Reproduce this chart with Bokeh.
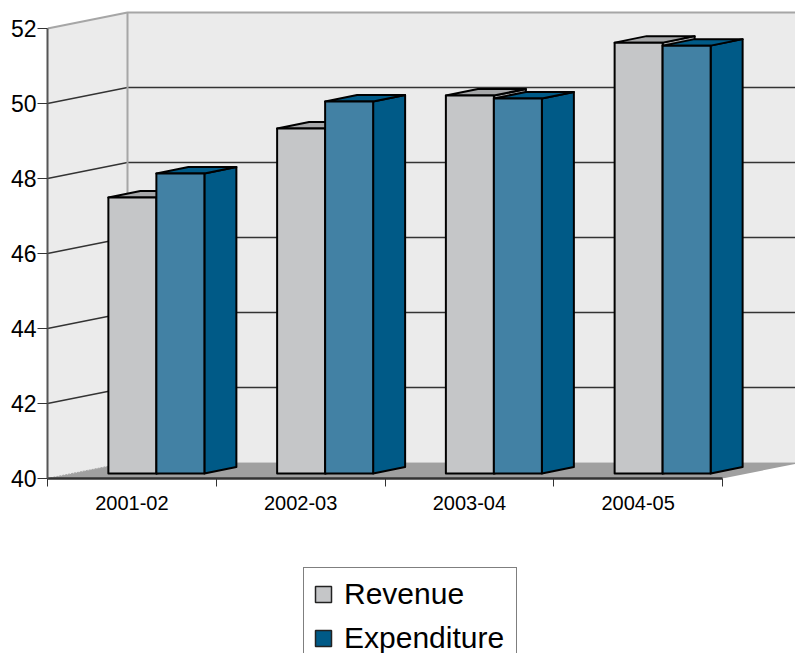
from bokeh.plotting import figure
from bokeh.layouts import column
from bokeh.models import FixedTicker, Legend, LegendItem
from bokeh.embed import file_html
from bokeh.resources import INLINE

years = ["2001-02", "2002-03", "2003-04", "2004-05"]
revenue = [47.36, 49.2, 50.08, 51.49]
expenditure = [48.0, 49.92, 50.0, 51.41]
y_ticks = [40, 42, 44, 46, 48, 50, 52]

PX_X = 168.75   # pixels per category
PX_Y = 37.5     # pixels per y unit
WALL_DX, WALL_DY = 80 / PX_X, 16 / PX_Y
BAR_DX, BAR_DY = 32 / PX_X, 6.5 / PX_Y
FRONT_DX, FRONT_DY = 24.5 / PX_X, 5 / PX_Y
BAR_W = 48 / PX_X
FONT = "Liberation Sans"

p = figure(width=795, height=530, output_backend="svg", toolbar_location=None,
           x_range=(0, (795 - 47) / PX_X), y_range=(40, 40 + 470 / PX_Y),
           min_border_left=47, min_border_right=0, min_border_top=8, min_border_bottom=52,
           outline_line_color=None, background_fill_color="white", margin=(0, 0, 0, 0))
p.grid.visible = False

x_far = 4 + WALL_DX

p.patch([0, WALL_DX, WALL_DX, 0], [40, 40 + WALL_DY, 52 + WALL_DY, 52], fill_color="#ebebeb", line_color=None)
p.patch([WALL_DX, x_far, x_far, WALL_DX], [40 + WALL_DY, 40 + WALL_DY, 52 + WALL_DY, 52 + WALL_DY],
        fill_color="#ebebeb", line_color=None)
p.patch([0, 4, x_far, WALL_DX], [40, 40, 40 + WALL_DY, 40 + WALL_DY], fill_color="#a0a0a0", line_color=None)

for t in y_ticks[1:]:
    c = "#a6a6a6" if t == 52 else "#333333"
    w = 2 if t == 52 else 1.3
    p.line([0, WALL_DX, x_far], [t, t + WALL_DY, t + WALL_DY], line_color=c, line_width=w)
p.line([WALL_DX, WALL_DX], [40 + WALL_DY, 52 + WALL_DY], line_color="#a6a6a6", line_width=2)
p.line([0, WALL_DX], [40, 40 + WALL_DY], line_color="#a6a6a6", line_width=1.2, line_dash="2 1")

def box(x0, v, front, side):
    y0 = 40 + FRONT_DY
    yt = v + FRONT_DY
    x1 = x0 + BAR_W
    kw = dict(line_color="black", line_width=2, line_join="round")
    p.patch([x1, x1 + BAR_DX, x1 + BAR_DX, x1], [y0, y0 + BAR_DY, yt + BAR_DY, yt], fill_color=side, **kw)
    p.patch([x0, x0 + BAR_DX, x1 + BAR_DX, x1], [yt, yt + BAR_DY, yt + BAR_DY, yt], fill_color=side, **kw)
    p.patch([x0, x1, x1, x0], [y0, y0, yt, yt], fill_color=front, **kw)

for i in range(len(years)):
    cx = i + 0.5 + FRONT_DX
    box(cx - BAR_W, revenue[i], "#c5c6c8", "#a6a7a9")
    box(cx, expenditure[i], "#4281a4", "#005a87")

ya = p.yaxis[0]
ya.ticker = FixedTicker(ticks=y_ticks)
ya.bounds = (40, 52)
ya.axis_line_color = "#555555"
ya.axis_line_width = 2
ya.major_tick_in = 0
ya.major_tick_out = 10
ya.major_tick_line_color = "#333333"
ya.minor_tick_line_color = None
ya.major_label_standoff = 1
ya.major_label_text_font = FONT
ya.major_label_text_font_size = "23px"
ya.major_label_text_color = "black"

xa = p.xaxis[0]
xa.ticker = FixedTicker(ticks=[0.5, 1.5, 2.5, 3.5], minor_ticks=[0, 1, 2, 3, 4])
xa.major_label_overrides = {0.5: years[0], 1.5: years[1], 2.5: years[2], 3.5: years[3]}
xa.bounds = (0, 4)
xa.axis_line_color = "#333333"
xa.axis_line_width = 2.5
xa.major_tick_line_color = None
xa.major_tick_in = 0
xa.major_tick_out = 0
xa.minor_tick_line_color = "#333333"
xa.minor_tick_in = 0
xa.minor_tick_out = 8
xa.major_label_standoff = 9
xa.major_label_text_font = FONT
xa.major_label_text_font_size = "20px"
xa.major_label_text_color = "black"

# legend panel
q = figure(width=795, height=123, output_backend="svg", toolbar_location=None,
           x_range=(0, 1), y_range=(0, 1), min_border=0, outline_line_color=None,
           margin=(0, 0, 0, 0))
q.axis.visible = False
q.grid.visible = False
sw_r = q.patch([0, 0], [0, 0], fill_color="#c5c6c8", line_color="#222222", line_width=1.5)
sw_e = q.patch([0, 0], [0, 0], fill_color="#005a87", line_color="#222222", line_width=1.5)
legend = Legend(items=[LegendItem(label="Revenue", renderers=[sw_r]),
                       LegendItem(label="Expenditure", renderers=[sw_e])],
                location=(256, -12), padding=9, margin=0, spacing=10,
                glyph_width=20, glyph_height=20, label_standoff=11, label_width=163,
                label_text_font=FONT, label_text_font_size="30px", label_text_color="black",
                border_line_color="black", border_line_width=1, background_fill_color="white",
                background_fill_alpha=1.0)
q.add_layout(legend, "center")

page = column(p, q, spacing=0, margin=(0, 0, 0, 0))
open("out.html", "w").write(file_html(page, INLINE))
